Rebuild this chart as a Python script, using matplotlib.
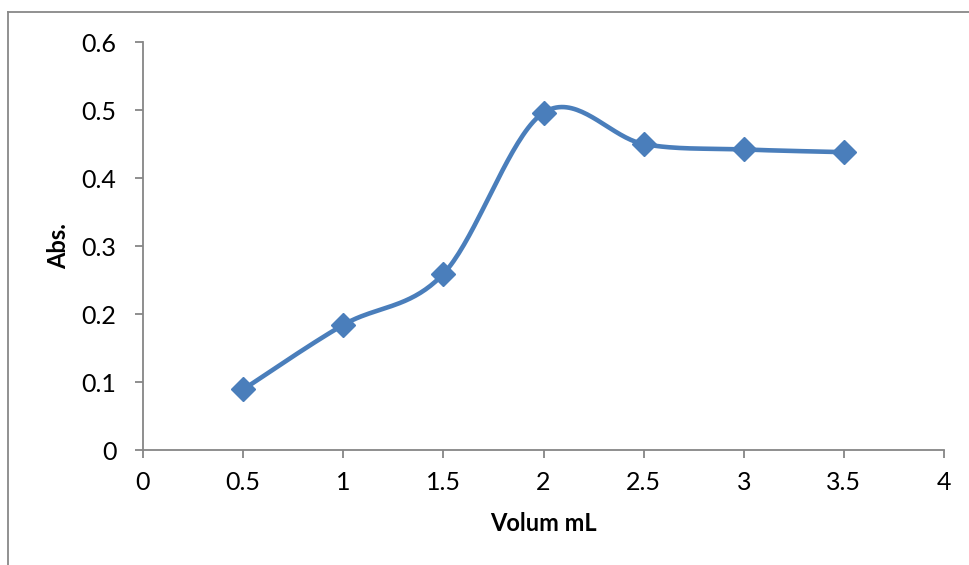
import numpy as np
import matplotlib
matplotlib.use("Agg")
import matplotlib.pyplot as plt
from matplotlib.lines import Line2D

volume = [0.5, 1.0, 1.5, 2.0, 2.5, 3.0, 3.5]
absorb = [0.089, 0.184, 0.259, 0.496, 0.450, 0.442, 0.438]
xticks = [0, 0.5, 1, 1.5, 2, 2.5, 3, 3.5, 4]
yticks = [0, 0.1, 0.2, 0.3, 0.4, 0.5, 0.6]
xlabel = "Volum mL"
ylabel = "Abs."

plt.rcParams['font.family'] = ['Lato', 'DejaVu Sans']

def smooth(xs, ys, n=40):
    # Excel-style Catmull-Rom Bezier smoothing
    x = np.asarray(xs, float); y = np.asarray(ys, float)
    px = np.concatenate([[x[0]], x, [x[-1]]]); py = np.concatenate([[y[0]], y, [y[-1]]])
    ox, oy = [], []
    t = np.linspace(0, 1, n)
    for i in range(1, len(px) - 2):
        p0 = np.array([px[i], py[i]]); p3 = np.array([px[i+1], py[i+1]])
        p1 = p0 + (np.array([px[i+1], py[i+1]]) - np.array([px[i-1], py[i-1]])) / 6
        p2 = p3 - (np.array([px[i+2], py[i+2]]) - np.array([px[i], py[i]])) / 6
        b = ((1-t)**3)[:, None]*p0 + (3*(1-t)**2*t)[:, None]*p1 + (3*(1-t)*t**2)[:, None]*p2 + (t**3)[:, None]*p3
        ox.extend(b[:, 0]); oy.extend(b[:, 1])
    return ox, oy

fig = plt.figure(figsize=(9.69, 5.65), dpi=100)
ax = fig.add_axes([143/969, 1 - 450/565, (944-143)/969, (450-42)/565])

sx, sy = smooth(volume, absorb)
ax.plot(sx, sy, color='#4A7EBB', lw=3.3, solid_capstyle='round', zorder=2)
ax.plot(volume, absorb, linestyle='none', marker='D', markersize=12,
        color='#4A7EBB', zorder=3)

ax.set_xlim(0, 4)
ax.set_ylim(0, 0.6)
ax.set_xticks(xticks)
ax.set_xticklabels([f"{v:g}" for v in xticks])
ax.set_yticks(yticks)
ax.set_yticklabels([f"{v:g}" for v in yticks])
for s in ['top', 'right']:
    ax.spines[s].set_visible(False)
for s in ['left', 'bottom']:
    ax.spines[s].set_color('#868686')
    ax.spines[s].set_linewidth(1.3)
ax.tick_params(axis='both', direction='out', length=6, width=1.3, color='#868686',
               labelsize=18, labelcolor='black')
ax.tick_params(axis='x', pad=9)
ax.tick_params(axis='y', pad=13)
ax.set_xlabel(xlabel, fontsize=17, fontweight='bold', labelpad=13)
ax.set_ylabel(ylabel, fontsize=17, fontweight='bold', labelpad=8)

# outer chart border (partially cropped)
fig.add_artist(Line2D([8/969, 8/969], [0, 1 - 12/565], color='#888888', lw=1.3,
                      transform=fig.transFigure))
fig.add_artist(Line2D([8/969, 1], [1 - 12/565, 1 - 12/565], color='#888888', lw=1.3,
                      transform=fig.transFigure))

fig.savefig('out.png', dpi=100)
